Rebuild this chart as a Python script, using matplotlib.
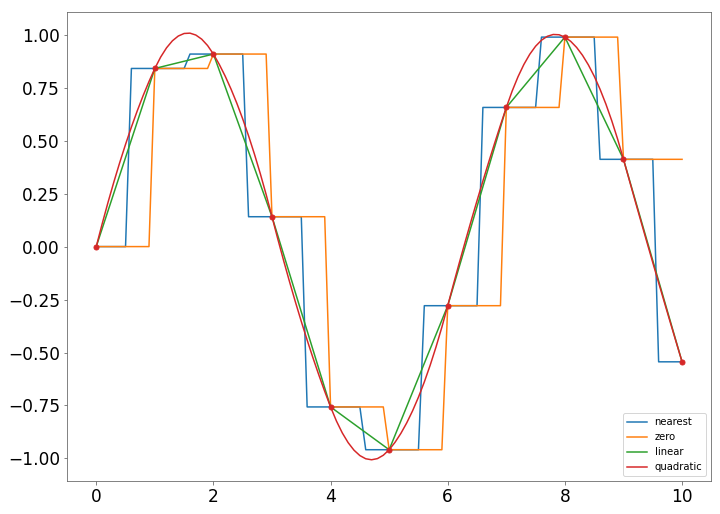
import numpy as np
import matplotlib
matplotlib.use("Agg")
import matplotlib.pyplot as plt

# sample points
x = [0, 1, 2, 3, 4, 5, 6, 7, 8, 9, 10]
y = [0.0, 0.841, 0.909, 0.141, -0.757, -0.959, -0.279, 0.657, 0.989, 0.412, -0.544]
labels = ['nearest', 'zero', 'linear', 'quadratic']

x = np.array(x, dtype=float)
y = np.array(y)
xnew = np.linspace(0, 10, 101)

# nearest / zero / linear, like interp1d
mid = (x[1:] + x[:-1]) / 2
y_nearest = y[np.clip(np.searchsorted(mid, xnew, side='left'), 0, len(y) - 1)]
y_zero = y[np.clip(np.searchsorted(x, xnew, side='right') - 1, 0, len(y) - 2)]
y_linear = np.interp(xnew, x, y)

# quadratic: C1 piecewise quadratic through the points, free start slope
# picked to minimise the jumps of the 2nd derivative ("smoothest")
h = np.diff(x)
dy = np.diff(y) / h


def coefs(d0):
    d = [d0]
    a = []
    for i in range(len(h)):
        a.append((dy[i] - d[i]) / h[i])
        d.append(2 * dy[i] - d[i])
    return np.array(d[:-1]), np.array(a)


_, a0 = coefs(0.0)
_, a1 = coefs(1.0)
ja, jb = np.diff(a0), np.diff(a1) - np.diff(a0)
d0 = -np.dot(ja, jb) / np.dot(jb, jb)
d, a = coefs(d0)
idx = np.clip(np.searchsorted(x, xnew, side='right') - 1, 0, len(h) - 1)
u = xnew - x[idx]
y_quad = y[idx] + d[idx] * u + a[idx] * u ** 2

fig = plt.figure(figsize=(10, 514 / 72), dpi=72)
ax = fig.add_axes([0.093, 0.064, 0.895, 0.913])
ax.plot(xnew, y_nearest, label=labels[0])
ax.plot(xnew, y_zero, label=labels[1])
ax.plot(xnew, y_linear, label=labels[2])
ax.plot(xnew, y_quad, label=labels[3])
ax.plot(x, y, 'o', color='C3', markersize=5)
ax.tick_params(labelsize=17, color='#666666')
for s in ax.spines.values():
    s.set_edgecolor('#666666')
ax.legend(loc='lower right', fontsize=10)
fig.savefig('out.png', dpi=72)
